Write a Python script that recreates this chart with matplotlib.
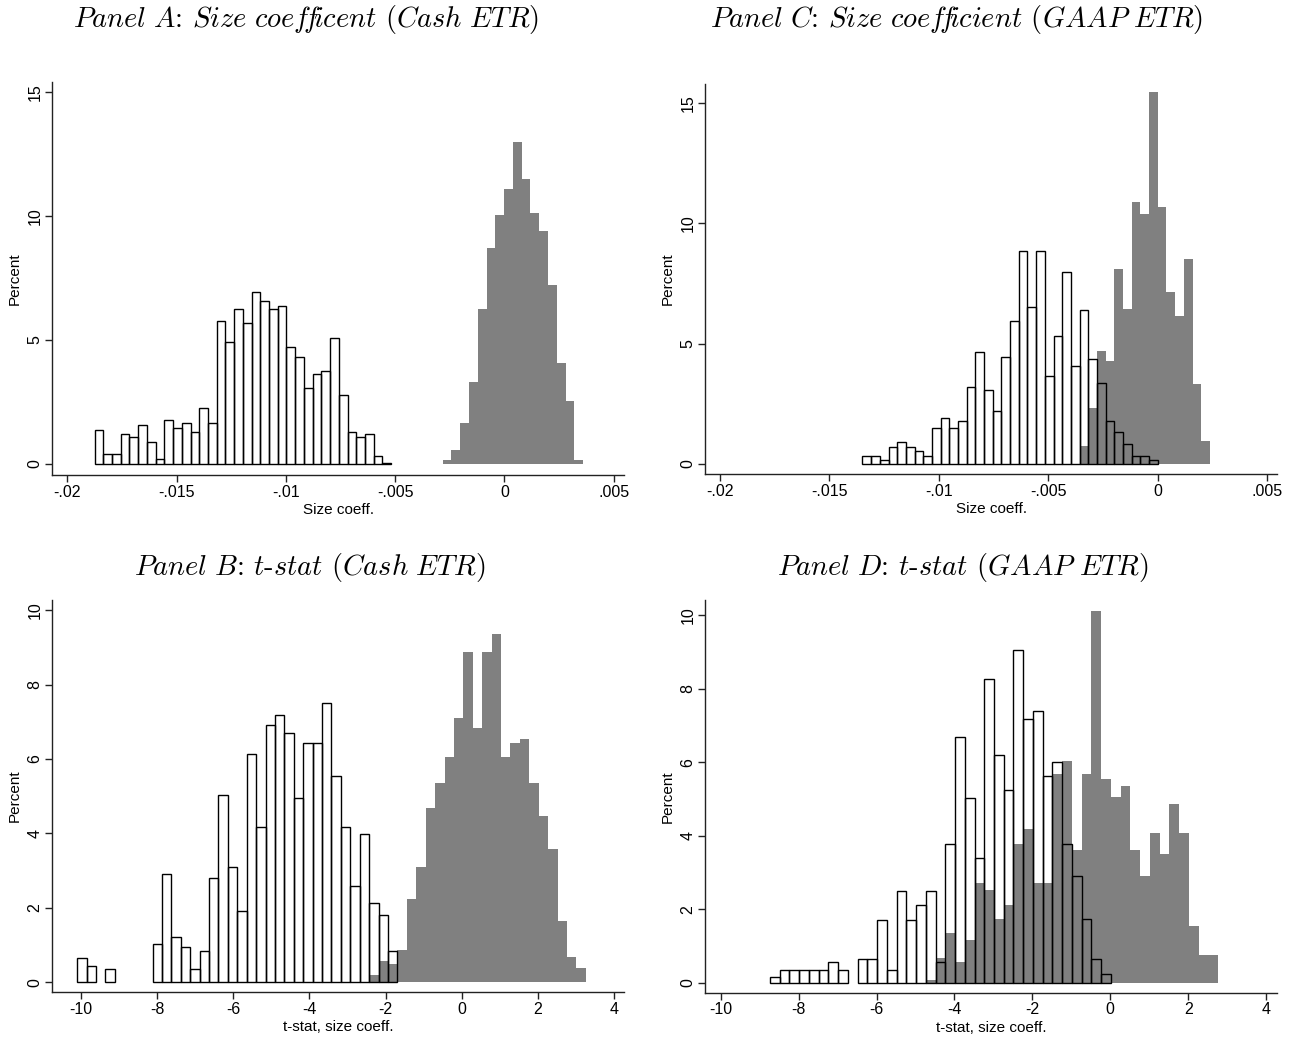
import numpy as np
import matplotlib
matplotlib.use("Agg")
import matplotlib.pyplot as plt

plt.rcParams['font.family'] = ['Liberation Sans', 'DejaVu Sans']
plt.rcParams['mathtext.fontset'] = 'cm'

# ---------------- data (percent per bin) ----------------
# Panel A: Size coefficient (Cash ETR)
A_white_start, A_white_width = -0.01875, 0.000399
A_white = [1.39, 0.40, 0.40, 1.19, 1.10, 1.58, 0.90, 0.20, 1.78, 1.47, 1.67, 1.29,
           2.26, 1.67, 5.77, 4.90, 6.25, 5.68, 6.93, 6.55, 6.25, 6.36, 4.70, 4.31,
           3.05, 3.63, 3.73, 5.09, 2.76, 1.29, 1.10, 1.19, 0.31, 0.05]
A_gray_start, A_gray_width = -0.00283, 0.000402
A_gray = [0.17, 0.58, 1.66, 3.29, 6.24, 8.69, 10.05, 11.08, 12.96, 11.50, 10.13,
          9.37, 7.20, 4.08, 2.54, 0.17]

# Panel C: Size coefficient (GAAP ETR)
C_start, C_width = -0.01349, 0.000397
C_white = [0.33, 0.33, 0.15, 0.72, 0.93, 0.72, 0.54, 0.33, 1.51, 1.90, 1.51, 1.80,
           3.19, 4.64, 3.07, 2.20, 4.46, 5.94, 8.86, 6.51, 8.86, 3.67, 5.33, 7.99,
           4.06, 6.41, 4.36, 3.38, 1.80, 1.32, 0.83, 0.33, 0.33, 0.17]
C_gray_first_bin = 25
C_gray = [0.75, 2.33, 4.70, 4.28, 8.12, 6.43, 10.89, 10.39, 15.47, 10.68, 7.16,
          6.15, 8.52, 3.32, 0.97]

# Panel B: t-stat (Cash ETR)
B_start, B_width = -10.1, 0.2474
B_white = [0.65, 0.45, 0, 0.36, 0, 0, 0, 0, 1.04, 2.90, 1.23, 0.94, 0.36, 0.84,
           2.80, 5.04, 3.09, 1.92, 6.12, 4.17, 6.91, 7.19, 6.70, 4.94, 6.42, 6.42,
           7.49, 5.53, 4.17, 2.60, 3.98, 2.13, 1.81, 0.84]
B_gray_first_bin = 31
B_gray = [0.19, 0.57, 0.49, 0.86, 2.23, 3.11, 4.67, 5.36, 6.04, 7.10, 8.87, 6.82,
          8.87, 9.37, 6.04, 6.43, 6.54, 5.36, 4.48, 3.59, 1.64, 0.68, 0.38]

# Panel D: t-stat (GAAP ETR)
D_start, D_width = -8.734, 0.25
D_white = [0.16, 0.35, 0.35, 0.35, 0.35, 0.35, 0.55, 0.35, 0, 0.64, 0.64, 1.71,
           0.35, 2.50, 1.71, 2.11, 2.50, 0.55, 3.76, 6.69, 5.03, 3.38, 8.25, 6.20,
           5.23, 9.04, 7.18, 7.38, 5.62, 6.00, 3.76, 2.89, 1.72, 0.64, 0.25]
D_gray_first_bin = 16
D_gray = [0.07, 0.68, 1.36, 0.57, 1.17, 2.72, 2.53, 1.74, 2.12, 3.78, 4.19, 2.72,
          2.72, 5.67, 6.03, 3.60, 5.67, 10.12, 5.55, 5.06, 5.36, 3.60, 2.90, 4.08,
          3.51, 4.87, 4.08, 1.55, 0.76, 0.76]

coef_ticks = [-0.02, -0.015, -0.01, -0.005, 0, 0.005]
coef_ticklabels = ['-.02', '-.015', '-.01', '-.005', '0', '.005']
coef_yticks = [0, 5, 10, 15]
t_ticks = [-10, -8, -6, -4, -2, 0, 2, 4]
t_ticklabels = ['-10', '-8', '-6', '-4', '-2', '0', '2', '4']
t_yticks = [0, 2, 4, 6, 8, 10]

titles = {
    'A': r'$\mathit{Panel\ A}$: $\mathit{Size\ coef\!f\!icent}$ ($\mathit{Cash\ ETR}$)',
    'C': r'$\mathit{Panel\ C}$: $\mathit{Size\ coef\!f\!icient}$ ($\mathit{GAAP\ ETR}$)',
    'B': r'$\mathit{Panel\ B}$: $\mathit{t}$-$\mathit{stat}$ ($\mathit{Cash\ ETR}$)',
    'D': r'$\mathit{Panel\ D}$: $\mathit{t}$-$\mathit{stat}$ ($\mathit{GAAP\ ETR}$)',
}

# ---------------- figure ----------------
W, H = 1298, 1038
fig = plt.figure(figsize=(W / 100, H / 100), dpi=100)
GRAY = '#808080'


def add_ax(l, r, t, b):
    return fig.add_axes([l / W, 1 - b / H, (r - l) / W, (b - t) / H])


def draw(ax, white_lefts, white_h, white_w, gray_lefts, gray_h, gray_w):
    white_h = np.asarray(white_h, float)
    gray_h = np.asarray(gray_h, float)
    m = white_h > 0
    wl = np.asarray(white_lefts)[m]
    wh = white_h[m]
    ax.bar(wl, wh, width=white_w, align='edge', color='white', edgecolor='none',
           zorder=1)
    ax.bar(gray_lefts, gray_h, width=gray_w, align='edge', color=GRAY,
           edgecolor='none', zorder=2)
    ax.bar(wl, wh, width=white_w, align='edge', fill=False, edgecolor='black',
           linewidth=1.0, zorder=3)


def style(ax, xticks, xlabels, yticks, xlabel):
    for s in ['top', 'right']:
        ax.spines[s].set_visible(False)
    for s in ['left', 'bottom']:
        ax.spines[s].set_linewidth(1.0)
        ax.spines[s].set_color('#222222')
    ax.set_xticks(xticks)
    ax.set_xticklabels(xlabels)
    ax.set_yticks(yticks)
    ax.set_yticklabels([str(v) for v in yticks], rotation=90, va='center')
    ax.tick_params(axis='both', length=5, width=1.0, color='#222222',
                   labelsize=11.5, pad=2)
    ax.set_xlabel(xlabel, fontsize=11, labelpad=2.5)
    ax.set_ylabel('Percent', fontsize=11, labelpad=4)


# Panel A
axA = add_ax(52.3, 624, 82, 475)
draw(axA,
     A_white_start + A_white_width * np.arange(len(A_white)), A_white, A_white_width,
     A_gray_start + A_gray_width * np.arange(len(A_gray)), A_gray, A_gray_width)
axA.set_xlim(-0.020686, 0.005471)
axA.set_ylim(-0.443, 15.39)
style(axA, coef_ticks, coef_ticklabels, coef_yticks, 'Size coeff.')

# Panel C
axC = add_ax(705.3, 1277, 84, 474.3)
draw(axC,
     C_start + C_width * np.arange(len(C_white)), C_white, C_width,
     C_start + C_width * (C_gray_first_bin + np.arange(len(C_gray))), C_gray, C_width)
axC.set_xlim(-0.020672, 0.005457)
axC.set_ylim(-0.428, 15.79)
style(axC, coef_ticks, coef_ticklabels, coef_yticks, 'Size coeff.')

# Panel B
axB = add_ax(52.3, 624, 600, 992)
draw(axB,
     B_start + B_width * np.arange(len(B_white)), B_white, B_width,
     B_start + B_width * (B_gray_first_bin + np.arange(len(B_gray))), B_gray, B_width)
axB.set_xlim(-10.754, 4.263)
axB.set_ylim(-0.26, 10.27)
style(axB, t_ticks, t_ticklabels, t_yticks, 't-stat, size coeff.')

# Panel D
axD = add_ax(705, 1277, 600, 992.7)
draw(axD,
     D_start + D_width * np.arange(len(D_white)), D_white, D_width,
     D_start + D_width * (D_gray_first_bin + np.arange(len(D_gray))), D_gray, D_width)
axD.set_xlim(-10.403, 4.28)
axD.set_ylim(-0.272, 10.41)
style(axD, t_ticks, t_ticklabels, t_yticks, 't-stat, size coeff.')

# Titles
tkw = dict(ha='center', va='center', fontsize=20.5, family='cmr10')
fig.text(306 / W, 1 - 20 / H, titles['A'], **tkw)
fig.text(957 / W, 1 - 20 / H, titles['C'], **tkw)
fig.text(310 / W, 1 - 568 / H, titles['B'], **tkw)
fig.text(963 / W, 1 - 568 / H, titles['D'], **tkw)

fig.savefig('out.png', dpi=100, facecolor='white')
